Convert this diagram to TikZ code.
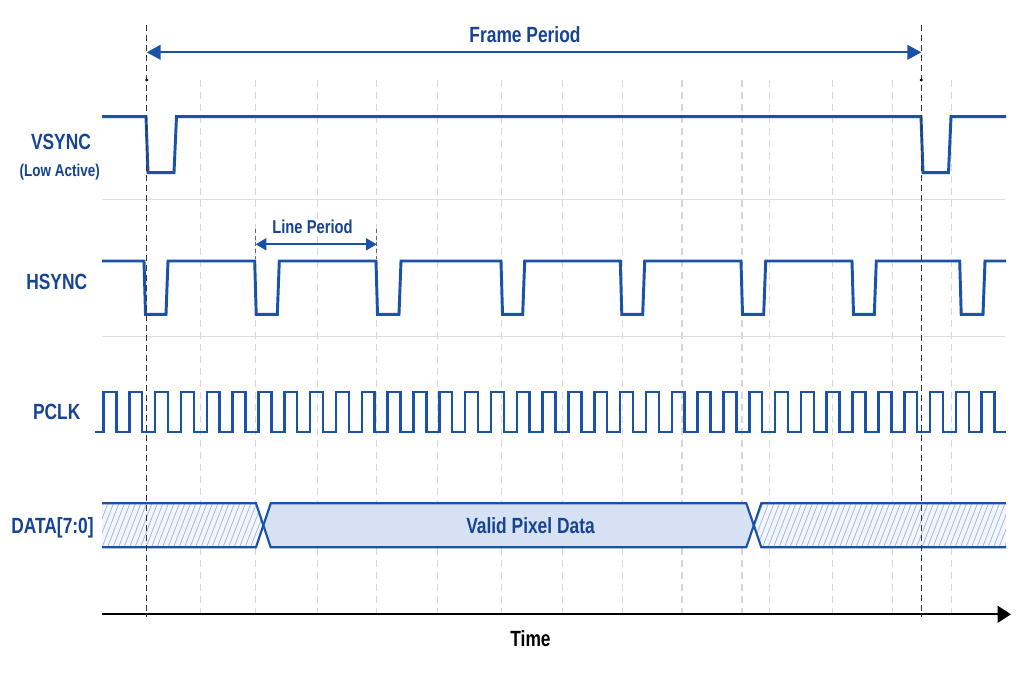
\documentclass[tikz,border=0pt]{standalone}
\usepackage{fontspec}
\setmainfont{Liberation Sans}[FakeStretch=0.79]
\usetikzlibrary{arrows.meta}
\definecolor{sig}{RGB}{26,82,168}
\definecolor{txt}{RGB}{22,68,146}
\definecolor{validfill}{RGB}{214,226,243}
\definecolor{hatchc}{RGB}{165,186,220}
\definecolor{hatchbg}{RGB}{243,246,252}
\definecolor{gridc}{RGB}{216,216,216}
\definecolor{sepc}{RGB}{222,222,222}
\tikzset{
  siglab/.style={font=\bfseries\fontsize{16.5}{18}\selectfont, text=txt, inner sep=0pt, anchor=base},
  smalllab/.style={font=\bfseries\fontsize{12.8}{14}\selectfont, text=txt, inner sep=0pt, anchor=base},
  periodlab/.style={font=\bfseries\fontsize{14}{16}\selectfont, text=txt, inner sep=0pt, anchor=base},
  sigline/.style={draw=sig, line width=2.2pt, line join=miter},
  clkline/.style={draw=sig, line width=1.9pt, line join=miter},
  busline/.style={draw=sig, line width=1.6pt, line join=miter},
  gridline/.style={draw=gridc, line width=0.8pt, dash pattern=on 5pt off 4pt},
  sepline/.style={draw=sepc, line width=0.8pt},
  marker/.style={draw=black!80, line width=0.7pt, dash pattern=on 4.5pt off 3pt},
  ticker/.style={draw=black!60, line width=0.6pt, dash pattern=on 3pt off 2pt},
  hatchline/.style={draw=hatchc, line width=0.6pt},
  bigarrow/.style={draw=sig, line width=1.6pt, {Triangle[length=10.5pt,width=11pt]}-{Triangle[length=10.5pt,width=11pt]}},
  smallarrow/.style={draw=sig, line width=1.4pt, {Triangle[length=8pt,width=9pt]}-{Triangle[length=8pt,width=9pt]}},
  timearrow/.style={draw=black, line width=1.6pt, -{Triangle[length=10pt,width=12.5pt]}}
}
\begin{document}
\begin{tikzpicture}[x=0.75pt,y=-0.75pt]
\useasboundingbox[fill=white] (0,0) rectangle (1024,683);

% grid lines
\foreach \gx in {200.7,255.7,317.3,376.7,437.3,501.7,562.7,622.3,682,742,769.7,832.7,892.7,951.3}
  \draw[gridline] (\gx,80) -- (\gx,615);

% separators
\draw[sepline] (102,199.3) -- (1005,199.3);
\draw[sepline] (102,336.5) -- (1005,336.5);

% labels
\node[siglab] (vlab) at (61,149.3) {VSYNC};
\node[smalllab] (vlab2) at (59.7,176.5) {(Low Active)};
\node[siglab] (hlab) at (56.7,289.3) {HSYNC};
\node[siglab] (plab) at (56.7,419) {PCLK};
\node[siglab] (dlab) at (52.5,533.3) {DATA[7:0]};
\node[siglab] (flab) at (525,42.3) {Frame Period};
\node[periodlab] (llab) at (312.5,233.3) {Line Period};

% VSYNC
\draw[sigline] (102,116.7) -- (146,116.7) -- (148,172.7) -- (174,172.7) -- (176.5,116.7)
  -- (921,116.7) -- (923,172.7) -- (948.5,172.7) -- (951,116.7) -- (1006,116.7);

% HSYNC
\draw[sigline] (102,261)
  foreach \a/\b in {144/166,254.7/277.3,376/399,501/522.7,620.3/642.7,741/763.7,852/874.3,959.7/983}
  { -- (\a,261) -- ({\a+1.5},314.3) -- (\b,314.3) -- ({\b+2},261) }
  -- (1006,261);

% PCLK
\draw[clkline] (95,432)
  foreach \k in {0,...,34}
  { -- ({103.5+25.83*\k},432) -- ++(0,-40) -- ++(12.9,0) -- ++(0,40) }
  -- (1006,432);

% DATA bus
\begin{scope}
  \clip (102,503.3) -- (256,503.3) -- (263.3,525.3) -- (256,547.3) -- (102,547.3) -- cycle;
  \fill[hatchbg] (102,503.3) rectangle (264,547.3);
  \foreach \hx in {80,85.5,...,270}
    \draw[hatchline] (\hx,547.3) -- ({\hx+17},503.3);
\end{scope}
\begin{scope}
  \clip (753.7,525.3) -- (761.3,503.3) -- (1006,503.3) -- (1006,547.3) -- (761.3,547.3) -- cycle;
  \fill[hatchbg] (753,503.3) rectangle (1006,547.3);
  \foreach \hx in {735,740.5,...,1010}
    \draw[hatchline] (\hx,547.3) -- ({\hx+17},503.3);
\end{scope}
\fill[validfill] (263.3,525.3) -- (270.7,503.3) -- (746.3,503.3) -- (753.7,525.3) -- (746.3,547.3) -- (270.7,547.3) -- cycle;
\draw[busline] (102,503.3) -- (256,503.3) -- (270.7,547.3) -- (746.3,547.3) -- (761.3,503.3) -- (1006,503.3);
\draw[busline] (102,547.3) -- (256,547.3) -- (270.7,503.3) -- (746.3,503.3) -- (761.3,547.3) -- (1006,547.3);
\node[siglab] (vpd) at (530.5,533.5) {Valid Pixel Data};

% frame markers
\coordinate (mLtop) at (146.7,25);
\coordinate (mLbot) at (146.7,617);
\coordinate (mRtop) at (921.3,25);
\coordinate (mRbot) at (921.3,617);
\draw[marker] (mLtop) -- (mLbot);
\draw[marker] (mRtop) -- (mRbot);
\fill[black] (146.7,80) circle (1.6);
\fill[black] (921.3,80) circle (1.6);

% Frame period arrow
\coordinate (fpL) at (146.7,52.3);
\coordinate (fpR) at (921.3,52.3);
\draw[bigarrow] (fpL) -- (fpR);

% Line period arrow
\coordinate (lpL) at (255.7,244.3);
\coordinate (lpR) at (376.7,244.3);
\draw[ticker] (255.7,229) -- (255.7,259);
\draw[ticker] (376.7,229) -- (376.7,259);
\draw[smallarrow] (lpL) -- (lpR);

% Time axis
\coordinate (t0) at (102,614.3);
\coordinate (t1) at (1011,614.3);
\draw[timearrow] (t0) -- (t1);
\node[font=\bfseries\fontsize{16.5}{18}\selectfont, text=black, inner sep=0pt, anchor=base] (tlab) at (530.5,646.7) {Time};
\end{tikzpicture}
\end{document}
